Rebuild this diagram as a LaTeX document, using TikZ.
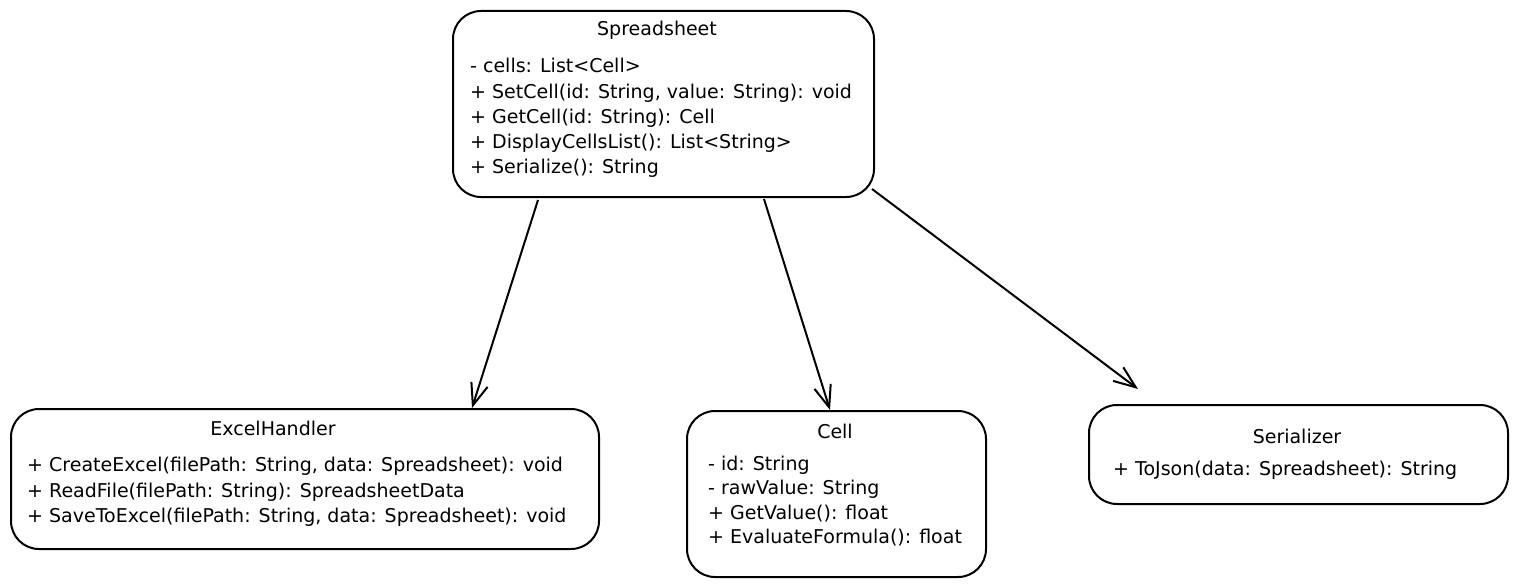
\documentclass[tikz,border=0pt]{standalone}
\usepackage{fontspec}
\setmainfont{DejaVu Sans}
\usetikzlibrary{arrows.meta}
\tikzset{
  box/.style={draw, line width=2pt, rounded corners=28pt, anchor=north west, inner sep=0pt},
  txt/.style={anchor=base west, inner sep=0pt, font=\fontsize{19}{22}\selectfont},
  ttl/.style={anchor=base, inner sep=0pt, font=\fontsize{19}{22}\selectfont},
  arr/.style={line width=2pt, -{Straight Barb[length=22pt,width=17pt,line width=2pt]}},
}
\begin{document}
\begin{tikzpicture}[x=1pt,y=-1pt]
\useasboundingbox[fill=white] (0,0) rectangle (1518,586);
% boxes
\node[box, minimum width=421pt, minimum height=186pt] (ss) at (452,10) {};
\node[box, minimum width=588pt, minimum height=140pt] (eh) at (10,408) {};
\node[box, minimum width=299pt, minimum height=166pt] (cell) at (686,410) {};
\node[box, minimum width=419pt, minimum height=99pt] (ser) at (1088,404) {};
% Spreadsheet
\node[ttl] (sst) at (657,36) {Spreadsheet};
\node[txt] (ss1) at (470,73) {- cells: List<Cell>};
\node[txt] (ss2) at (470,98) {+ SetCell(id: String, value: String): void};
\node[txt] (ss3) at (470,123) {+ GetCell(id: String): Cell};
\node[txt] (ss4) at (470,148) {+ DisplayCellsList(): List<String>};
\node[txt] (ss5) at (470,173) {+ Serialize(): String};
% ExcelHandler
\node[ttl] (eht) at (273,435) {ExcelHandler};
\node[txt] (eh1) at (27,471) {+ CreateExcel(filePath: String, data: Spreadsheet): void};
\node[txt] (eh2) at (27,497) {+ ReadFile(filePath: String): SpreadsheetData};
\node[txt] (eh3) at (27,522) {+ SaveToExcel(filePath: String, data: Spreadsheet): void};
% Cell
\node[ttl] (cellt) at (835,438) {Cell};
\node[txt] (c1) at (708,470) {- id: String};
\node[txt] (c2) at (708,494.5) {- rawValue: String};
\node[txt] (c3) at (708,519) {+ GetValue(): float};
\node[txt] (c4) at (708,543.5) {+ EvaluateFormula(): float};
% Serializer
\node[ttl] (sert) at (1297,443) {Serializer};
\node[txt] (ser1) at (1113,475) {+ ToJson(data: Spreadsheet): String};
% arrows
\draw[arr] ([xshift=86pt,yshift=-2pt]ss.south west) -- ([xshift=462pt]eh.north west);
\draw[arr] ([xshift=312pt,yshift=-1pt]ss.south west) -- ([xshift=144pt]cell.north west);
\draw[arr] ([xshift=-3pt,yshift=9pt]ss.south east) -- ([xshift=50pt,yshift=15pt]ser.north west);
\end{tikzpicture}
\end{document}
